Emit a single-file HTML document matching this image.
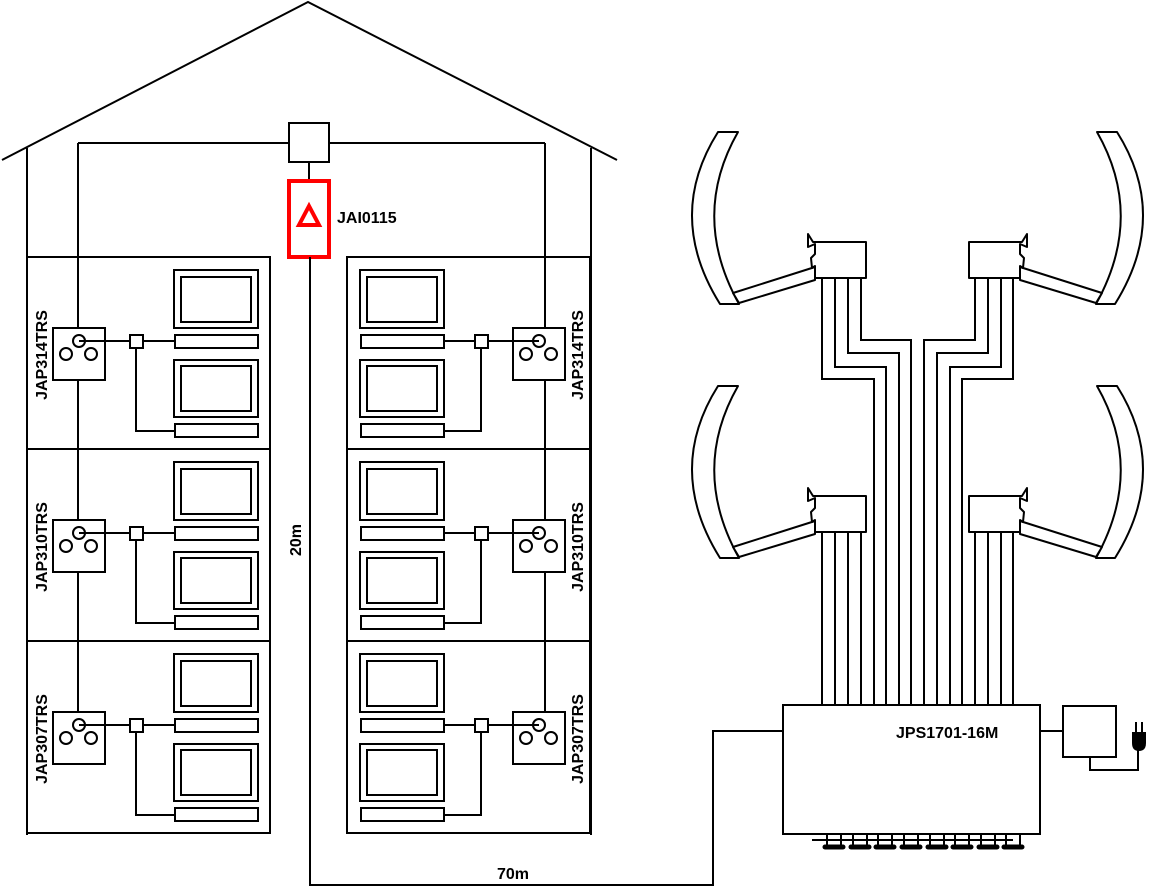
<!DOCTYPE html>
<html><head><meta charset="utf-8"><style>html,body{margin:0;padding:0;background:#fff}svg{display:block}text{font-family:"Liberation Sans",Arial,sans-serif;font-weight:bold;fill:#000}</style></head>
<body>
<svg width="1152" height="886" viewBox="0 0 1152 886" xmlns="http://www.w3.org/2000/svg">
<defs>
<g id="flL">
 <rect x="27" y="257" width="243" height="192" fill="none" stroke="#000" stroke-width="2"/>
 <rect x="53" y="328" width="52" height="52" fill="#fff" stroke="#000" stroke-width="2"/>
 <circle cx="79" cy="341" r="6" fill="#fff" stroke="#000" stroke-width="2"/>
 <circle cx="66" cy="354" r="6" fill="none" stroke="#000" stroke-width="2"/>
 <circle cx="91" cy="354" r="6" fill="none" stroke="#000" stroke-width="2"/>
 <path d="M79 341H175M136 347V431H175" fill="none" stroke="#000" stroke-width="2"/>
 <rect x="130" y="335" width="13" height="13" fill="#fff" stroke="#000" stroke-width="2"/>
 <rect x="174" y="270" width="84" height="58" fill="none" stroke="#000" stroke-width="2"/>
 <rect x="181" y="277" width="70" height="45" fill="none" stroke="#000" stroke-width="2"/>
 <rect x="175" y="335" width="83" height="13" fill="none" stroke="#000" stroke-width="2"/>
 <rect x="174" y="360" width="84" height="57" fill="none" stroke="#000" stroke-width="2"/>
 <rect x="181" y="366" width="70" height="45" fill="none" stroke="#000" stroke-width="2"/>
 <rect x="175" y="424" width="83" height="13" fill="none" stroke="#000" stroke-width="2"/>
</g>
<g id="flR">
 <rect x="347" y="257" width="243" height="192" fill="none" stroke="#000" stroke-width="2"/>
 <rect x="513" y="328" width="52" height="52" fill="#fff" stroke="#000" stroke-width="2"/>
 <circle cx="539" cy="341" r="6" fill="#fff" stroke="#000" stroke-width="2"/>
 <circle cx="526" cy="354" r="6" fill="none" stroke="#000" stroke-width="2"/>
 <circle cx="551" cy="354" r="6" fill="none" stroke="#000" stroke-width="2"/>
 <path d="M539 341H444M481 347V431H444" fill="none" stroke="#000" stroke-width="2"/>
 <rect x="475" y="335" width="13" height="13" fill="#fff" stroke="#000" stroke-width="2"/>
 <rect x="360" y="270" width="84" height="58" fill="none" stroke="#000" stroke-width="2"/>
 <rect x="367" y="277" width="70" height="45" fill="none" stroke="#000" stroke-width="2"/>
 <rect x="361" y="335" width="83" height="13" fill="none" stroke="#000" stroke-width="2"/>
 <rect x="360" y="360" width="84" height="57" fill="none" stroke="#000" stroke-width="2"/>
 <rect x="367" y="366" width="70" height="45" fill="none" stroke="#000" stroke-width="2"/>
 <rect x="361" y="424" width="83" height="13" fill="none" stroke="#000" stroke-width="2"/>
</g>
<g id="dish" fill="#fff" stroke="#000" stroke-width="2" stroke-linejoin="round">
 <path d="M718 386H738Q690 470 739 558H720Q665 470 718 386Z"/>
 <path d="M733 547L815 521V534L739 557Z"/>
 <path d="M808 488L813 496H866V532H815V520L812 522L811 512L815 508V498L808 501Z"/>
</g>
<g id="fc">
 <path d="M-7 0V13M7 0V13" stroke="#000" stroke-width="2"/>
 <path d="M-9 13H9" stroke="#000" stroke-width="5" stroke-linecap="round"/>
</g>
</defs>
<path d="M2 160L308 2L617 160" fill="none" stroke="#000" stroke-width="2"/>
<path d="M27 148V835M591 148V835" stroke="#000" stroke-width="2"/>
<path d="M78 143H545M78 143V720M545 143V720M309 162V180" fill="none" stroke="#000" stroke-width="2"/>
<use href="#flL"/><use href="#flL" y="192"/><use href="#flL" y="384"/>
<use href="#flR"/><use href="#flR" y="192"/><use href="#flR" y="384"/>
<rect x="289" y="123" width="40" height="39" fill="#fff" stroke="#000" stroke-width="2"/>
<rect x="289" y="181" width="40" height="76" fill="#fff" stroke="#f00" stroke-width="4"/>
<path d="M309 206L299 225H319Z" fill="none" stroke="#f00" stroke-width="4" stroke-linejoin="miter"/>
<text x="337" y="223" font-size="16">JAI0115</text>
<path d="M310 257V885H713V731H783" fill="none" stroke="#000" stroke-width="2"/>
<text x="513" y="879" font-size="16" text-anchor="middle">70m</text>
<text transform="translate(301,540) rotate(-90)" font-size="16" text-anchor="middle">20m</text>
<g font-size="16" text-anchor="middle">
<text transform="translate(47,355) rotate(-90)">JAP314TRS</text>
<text transform="translate(47,547) rotate(-90)">JAP310TRS</text>
<text transform="translate(47,739) rotate(-90)">JAP307TRS</text>
<text transform="translate(583,355) rotate(-90)">JAP314TRS</text>
<text transform="translate(583,547) rotate(-90)">JAP310TRS</text>
<text transform="translate(583,739) rotate(-90)">JAP307TRS</text>
</g>
<g fill="none" stroke="#000" stroke-width="2">
<path d="M822 277V379H874V705M835 277V367H886V705M848 277V353H899V705M861 277V340H911V705"/>
<path d="M1013 277V379H962V705M1001 277V367H950V705M988 277V353H937V705M975 277V340H924V705"/>
<path d="M822 532V705M835 532V705M848 532V705M861 532V705M975 532V705M988 532V705M1001 532V705M1013 532V705"/>
</g>
<use href="#dish" y="-254"/><use href="#dish"/>
<use href="#dish" transform="translate(1835,-254) scale(-1,1)"/>
<use href="#dish" transform="translate(1835,0) scale(-1,1)"/>
<rect x="783" y="705" width="257" height="129" fill="#fff" stroke="#000" stroke-width="2"/>
<text x="896" y="738" font-size="16">JPS1701-16M</text>
<path d="M812 840H1013" stroke="#000" stroke-width="2"/>
<g transform="translate(0,834)">
<use href="#fc" x="834"/><use href="#fc" x="860"/><use href="#fc" x="885"/><use href="#fc" x="911"/>
<use href="#fc" x="937"/><use href="#fc" x="962"/><use href="#fc" x="988"/><use href="#fc" x="1013"/>
</g>
<path d="M1040 731H1063" stroke="#000" stroke-width="2"/>
<rect x="1063" y="706" width="53" height="51" fill="#fff" stroke="#000" stroke-width="2"/>
<path d="M1090 757V770H1138V750" fill="none" stroke="#000" stroke-width="2"/>
<path d="M1132 732H1146V743Q1146 751 1139 751Q1132 751 1132 743Z" fill="#000"/>
<path d="M1136 722V732M1142 722V732" stroke="#000" stroke-width="2"/>
</svg>
</body></html>
